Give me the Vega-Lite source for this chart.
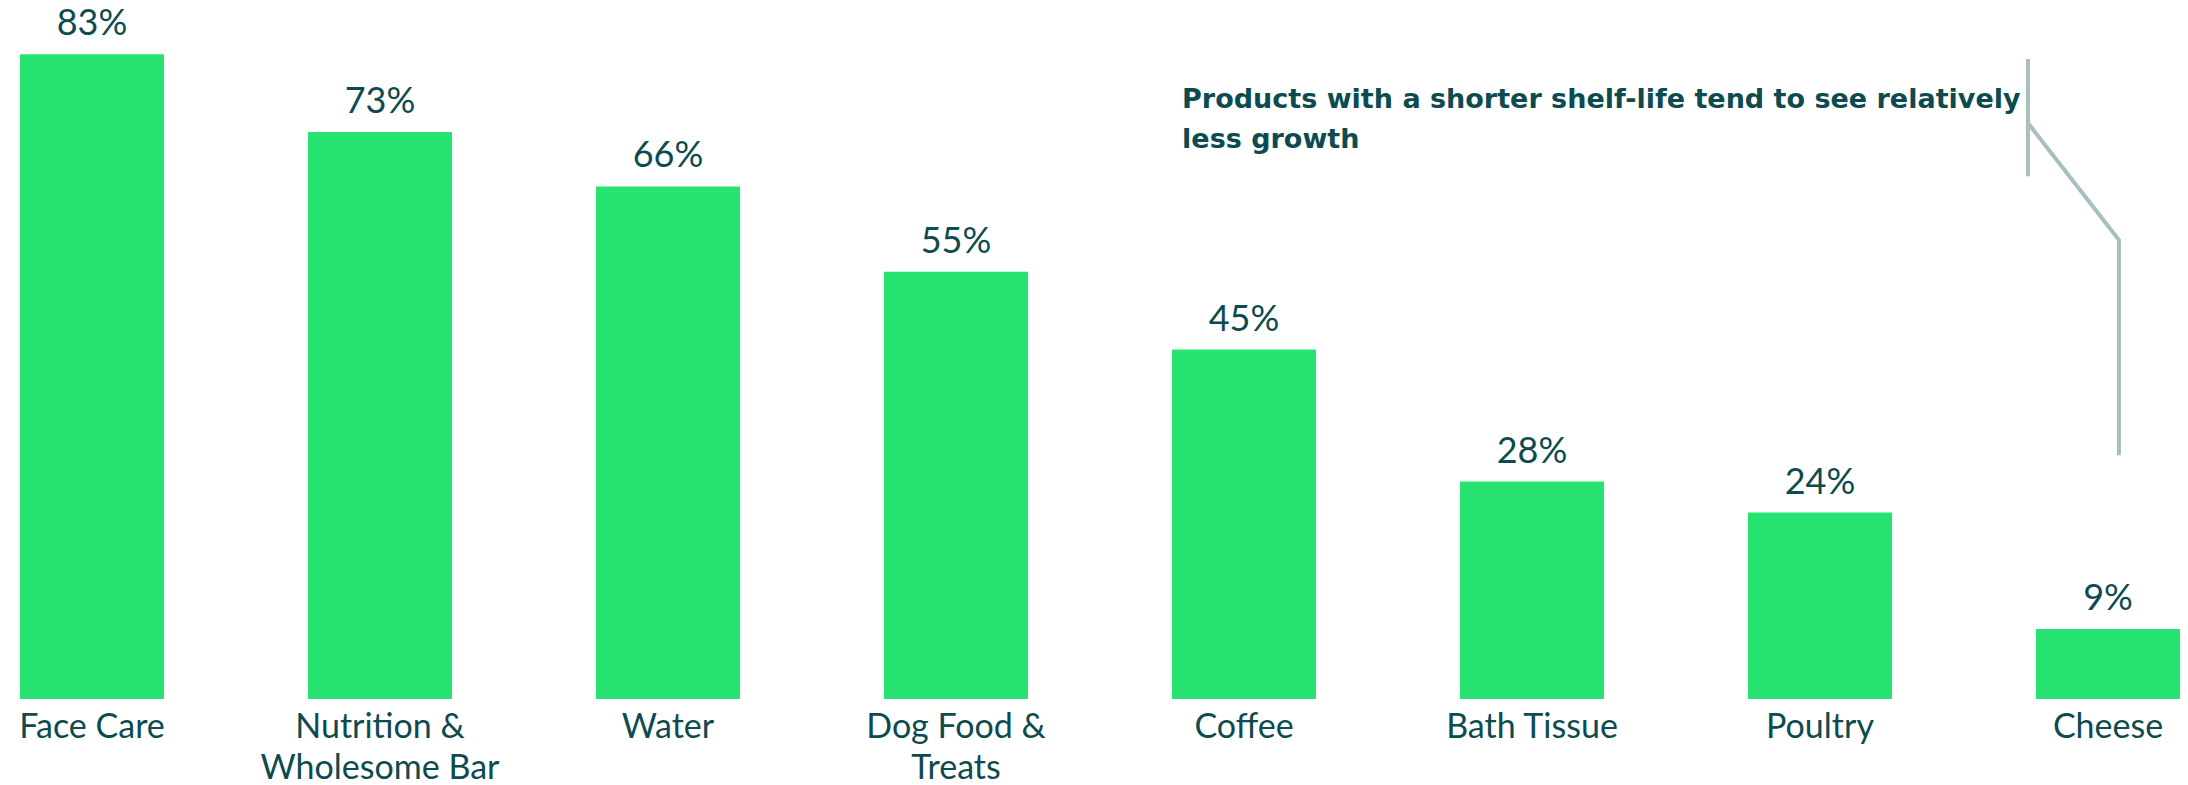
{
  "$schema": "https://vega.github.io/schema/vega-lite/v6.json",
  "autosize": {"type": "none"},
  "padding": {"left": 10, "top": 0, "right": 0, "bottom": 86},
  "width": 2180,
  "height": 699,
  "background": "white",
  "config": {"view": {"stroke": null}, "font": "Lato"},
  "datasets": {
    "bars": [
      {"category": "Face Care", "share": 0.83},
      {"category": "Nutrition & Wholesome Bar", "share": 0.73},
      {"category": "Water", "share": 0.66},
      {"category": "Dog Food & Treats", "share": 0.55},
      {"category": "Coffee", "share": 0.45},
      {"category": "Bath Tissue", "share": 0.28},
      {"category": "Poultry", "share": 0.24},
      {"category": "Cheese", "share": 0.09}
    ],
    "bracket": [
      {"seg": "a", "ord": 1, "pos": 6.722, "val": 0.824},
      {"seg": "a", "ord": 2, "pos": 6.722, "val": 0.673},
      {"seg": "b", "ord": 1, "pos": 6.722, "val": 0.7416},
      {"seg": "b", "ord": 2, "pos": 7.038, "val": 0.591},
      {"seg": "b", "ord": 3, "pos": 7.038, "val": 0.314}
    ],
    "note": [
      {"pos": 3.785, "val": 0.761, "text": "Products with a shorter shelf-life tend to see relatively\nless growth"}
    ]
  },
  "layer": [
    {
      "data": {"name": "bars"},
      "encoding": {
        "x": {
          "field": "category", "type": "nominal", "sort": null,
          "scale": {"paddingInner": 0.5, "paddingOuter": 0.0347},
          "axis": {
            "title": null, "domain": false, "ticks": false,
            "labelAngle": 0, "labelFont": "Lato", "labelFontSize": 34,
            "labelColor": "#0d4b50", "labelPadding": 11, "labelLineHeight": 41,
            "labelBaseline": "top", "labelLimit": 0, "labelOverlap": false,
            "labelExpr": "split(replace(datum.value, ' & ', ' &|'), '|')"
          }
        },
        "y": {
          "field": "share", "type": "quantitative",
          "scale": {"domain": [0, 0.9], "nice": false, "zero": true},
          "axis": null
        }
      },
      "layer": [
        {"mark": {"type": "bar", "color": "#26e372"}},
        {
          "mark": {"type": "text", "baseline": "alphabetic", "dy": -19, "fontSize": 36, "color": "#0d4b50", "font": "Lato"},
          "encoding": {"text": {"field": "share", "type": "quantitative", "format": ".0%"}}
        }
      ]
    },
    {
      "data": {"name": "bracket"},
      "mark": {"type": "line", "color": "#a8bfc0", "strokeWidth": 4},
      "encoding": {
        "x": {"field": "pos", "type": "quantitative", "scale": {"domain": [-0.2847, 7.2847], "nice": false, "zero": false}, "axis": null},
        "y": {"field": "val", "type": "quantitative", "scale": {"domain": [0, 0.9], "nice": false}, "axis": null},
        "detail": {"field": "seg"},
        "order": {"field": "ord"}
      }
    },
    {
      "data": {"name": "note"},
      "mark": {"type": "text", "align": "left", "baseline": "alphabetic", "fontSize": 27, "fontWeight": "bold", "color": "#0d4b50", "font": "DejaVu Sans", "lineBreak": "\n", "lineHeight": 40},
      "encoding": {
        "x": {"field": "pos", "type": "quantitative", "scale": {"domain": [-0.2847, 7.2847], "nice": false, "zero": false}, "axis": null},
        "y": {"field": "val", "type": "quantitative", "scale": {"domain": [0, 0.9], "nice": false}, "axis": null},
        "text": {"field": "text"}
      }
    }
  ],
  "resolve": {"scale": {"x": "independent"}}
}
